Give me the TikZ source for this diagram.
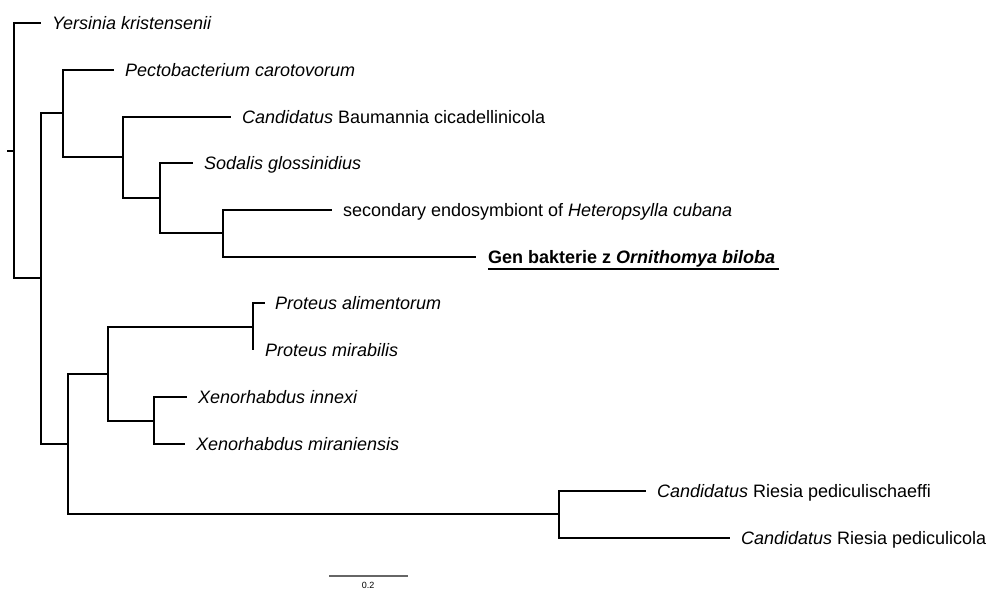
\documentclass[tikz,border=0pt]{standalone}
\usepackage{fontspec}
\setmainfont{Liberation Sans}
\usetikzlibrary{calc}
\begin{document}
\begin{tikzpicture}[x=1pt,y=-1pt,
  branch/.style={line width=1.6pt,line join=miter},
  leaf/.style={anchor=west,inner xsep=11pt,inner ysep=0pt,outer sep=0pt,
    text height=13pt,text depth=0pt,font=\fontsize{18}{20}\selectfont},
  scalebar/.style={line width=1.5pt,gray!80!black}]
\useasboundingbox (0,0) rectangle (992,592);

% internal nodes of the tree
\coordinate (rs) at (7,151);
\coordinate (root) at (14,151);
\coordinate (A) at (41,278);
\coordinate (B) at (63,113);
\coordinate (C) at (123,157);
\coordinate (D) at (160,198);
\coordinate (E) at (223,233);
\coordinate (F) at (68,444);
\coordinate (G) at (108,374);
\coordinate (P) at (253,327);
\coordinate (X) at (154,421);
\coordinate (R) at (559,514);

% taxa
\node[leaf] (yk) at (41,23) {\itshape Yersinia kristensenii};
\node[leaf] (pc) at (114,70) {\itshape Pectobacterium carotovorum};
\node[leaf] (cb) at (231,117) {\textit{Candidatus} Baumannia cicadellinicola};
\node[leaf] (sg) at (193,163) {\itshape Sodalis glossinidius};
\node[leaf] (se) at (332,210) {secondary endosymbiont of \textit{Heteropsylla cubana}};
\node[leaf,inner xsep=12pt] (gb) at (476,257) {\bfseries Gen bakterie z \textit{Ornithomya biloba}};
\node[leaf,inner xsep=10pt] (pa) at (265,303) {\itshape Proteus alimentorum};
\node[leaf,inner xsep=12pt] (pm) at (253,350) {\itshape Proteus mirabilis};
\node[leaf] (xi) at (187,397) {\itshape Xenorhabdus innexi};
\node[leaf] (xm) at (185,444) {\itshape Xenorhabdus miraniensis};
\node[leaf] (rps) at (646,491) {\textit{Candidatus} Riesia pediculischaeffi};
\node[leaf] (rpc) at (730,538) {\textit{Candidatus} Riesia pediculicola};

% underline of the highlighted taxon
\draw[line width=2.4pt] ($(gb.west)+(12,12)$) -- ($(gb.east)+(-8,12)$);

% branches
\draw[branch] (rs) -- (root);
\draw[branch] (root) |- (yk.west);
\draw[branch] (root) |- (A);
\draw[branch] (A) |- (B);
\draw[branch] (A) |- (F);
\draw[branch] (B) |- (pc.west);
\draw[branch] (B) |- (C);
\draw[branch] (C) |- (cb.west);
\draw[branch] (C) |- (D);
\draw[branch] (D) |- (sg.west);
\draw[branch] (D) |- (E);
\draw[branch] (E) |- (se.west);
\draw[branch] (E) |- (gb.west);
\draw[branch] (F) |- (G);
\draw[branch] (F) |- (R);
\draw[branch] (G) |- (P);
\draw[branch] (G) |- (X);
\draw[branch] (P) |- (pa.west);
\draw[branch] (P) |- (pm.west);
\draw[branch] (X) |- (xi.west);
\draw[branch] (X) |- (xm.west);
\draw[branch] (R) |- (rps.west);
\draw[branch] (R) |- (rpc.west);

% scale bar
\coordinate (sb1) at (329,576);
\coordinate (sb2) at (408,576);
\draw[scalebar] (sb1) -- (sb2);
\node[anchor=north,inner sep=0pt,font=\fontsize{9}{11}\selectfont] (sbl) at (368,582.5) {0.2};
\end{tikzpicture}
\end{document}
